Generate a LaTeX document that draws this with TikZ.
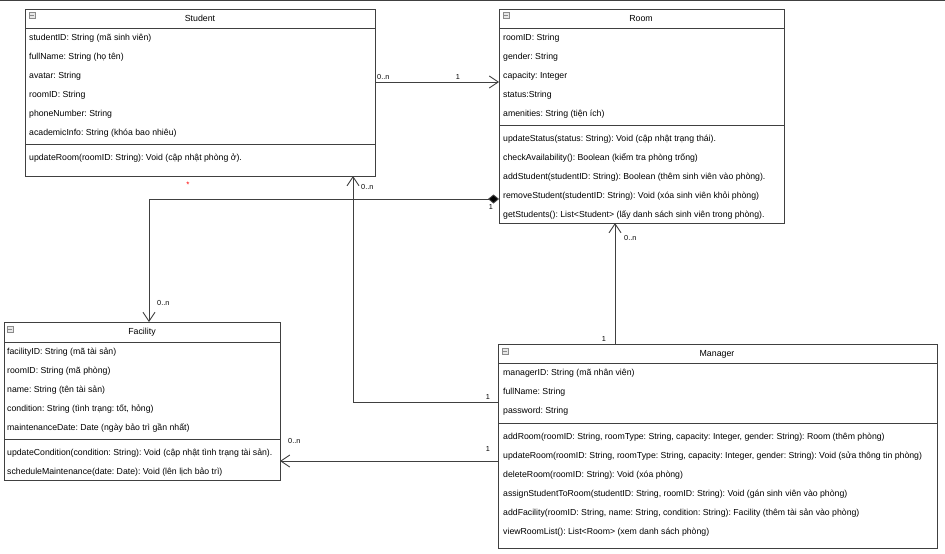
\documentclass[tikz,border=0pt]{standalone}
\usepackage{fontspec}
\setmainfont{Liberation Sans}
\usetikzlibrary{arrows.meta}
\definecolor{edge}{HTML}{404040}
\definecolor{iconc}{HTML}{8A8A8A}
\frenchspacing
\begin{document}
\begin{tikzpicture}[x=1pt,y=-1pt,
  box/.style={draw=edge, line width=0.9pt, fill=white, anchor=north west, inner sep=0pt, outer sep=0pt},
  txt/.style={anchor=west, inner sep=0pt, font=\fontsize{8.72}{10}\selectfont\frenchspacing, text height=6.5pt, text depth=2pt},
  ttl/.style={inner sep=0pt, font=\fontsize{8.8}{10}\selectfont, text height=6.5pt, text depth=2pt},
  lab/.style={inner sep=0pt, font=\fontsize{7.3}{9}\selectfont, text height=5.5pt, text depth=0pt},
  sep/.style={draw=edge, line width=0.9pt},
  conn/.style={draw=edge, line width=0.9pt},
  openend/.style={-{Straight Barb[length=9pt,width=12pt]}},
  icon/.style={draw=iconc, fill=iconc!20, line width=0.5pt, minimum size=6pt, inner sep=0pt,
    path picture={\draw[iconc, line width=0.7pt] ([xshift=1.4pt]path picture bounding box.west) -- ([xshift=-1.4pt]path picture bounding box.east);}},
]
\useasboundingbox (0,0) rectangle (945,554);
\fill[white] (0,0) rectangle (945,554);
\draw[edge, line width=1pt] (0,0.5) -- (945,0.5);

% ---------- boxes ----------
\node[box, minimum width=350pt, minimum height=167pt] (student) at (25,9) {};
\node[box, minimum width=285pt, minimum height=214pt] (room) at (499,9) {};
\node[box, minimum width=276pt, minimum height=158pt] (facility) at (4,322) {};
\node[box, minimum width=439pt, minimum height=204pt] (manager) at (498,344) {};

% ---------- Student ----------
\node[icon] (si) at (32,15) {};
\node[ttl] (st) at (200,19.5) {Student};
\draw[sep] (student.west |- 0,28) -- (student.east |- 0,28);
\draw[sep] (student.west |- 0,144) -- (student.east |- 0,144);
\foreach \t [count=\i] in {{studentID: String (mã sinh viên)},{fullName: String (họ tên)},{avatar: String},{roomID: String},{phoneNumber: String},{academicInfo: String (khóa bao nhiêu)}}
  \node[txt, name=sa\i] at (29,{38+19*(\i-1)}) {\t};
\node[txt] (sm1) at (29,158) {updateRoom(roomID: String): Void (cập nhật phòng ở).};

% ---------- Room ----------
\node[icon] (ri) at (506,15) {};
\node[ttl] (rt) at (641,19.5) {Room};
\draw[sep] (room.west |- 0,28) -- (room.east |- 0,28);
\draw[sep] (room.west |- 0,125) -- (room.east |- 0,125);
\foreach \t [count=\i] in {{roomID: String},{gender: String},{capacity: Integer},{status:String},{amenities: String (tiện ích)}}
  \node[txt, name=ra\i] at (503,{38+19*(\i-1)}) {\t};
\foreach \t [count=\i] in {{updateStatus(status: String): Void (cập nhật trạng thái).},{checkAvailability(): Boolean (kiểm tra phòng trống)},{addStudent(studentID: String): Boolean (thêm sinh viên vào phòng).},{removeStudent(studentID: String): Void (xóa sinh viên khỏi phòng)},{getStudents(): List<Student> (lấy danh sách sinh viên trong phòng).}}
  \node[txt, name=rm\i] at (503,{139+19*(\i-1)}) {\t};

% ---------- Facility ----------
\node[icon] (fi) at (10,329) {};
\node[ttl] (ft) at (142,332.5) {Facility};
\draw[sep] (facility.west |- 0,342) -- (facility.east |- 0,342);
\draw[sep] (facility.west |- 0,439) -- (facility.east |- 0,439);
\foreach \t [count=\i] in {{facilityID: String (mã tài sản)},{roomID: String (mã phòng)},{name: String (tên tài sản)},{condition: String (tình trạng: tốt, hỏng)},{maintenanceDate: Date (ngày bảo trì gần nhất)}}
  \node[txt, name=fa\i] at (7,{352+19*(\i-1)}) {\t};
\foreach \t [count=\i] in {{updateCondition(condition: String): Void (cập nhật tình trạng tài sản).},{scheduleMaintenance(date: Date): Void (lên lịch bảo trì)}}
  \node[txt, name=fm\i] at (7,{453+19*(\i-1)}) {\t};

% ---------- Manager ----------
\node[icon] (mi) at (505,351) {};
\node[ttl] (mt) at (717,354.5) {Manager};
\draw[sep] (manager.west |- 0,363) -- (manager.east |- 0,363);
\draw[sep] (manager.west |- 0,423) -- (manager.east |- 0,423);
\foreach \t [count=\i] in {{managerID: String (mã nhân viên)},{fullName: String},{password: String}}
  \node[txt, name=ma\i] at (503,{373+19*(\i-1)}) {\t};
\foreach \t [count=\i] in {{addRoom(roomID: String, roomType: String, capacity: Integer, gender: String): Room (thêm phòng)},{updateRoom(roomID: String, roomType: String, capacity: Integer, gender: String): Void (sửa thông tin phòng)},{deleteRoom(roomID: String): Void (xóa phòng)},{assignStudentToRoom(studentID: String, roomID: String): Void (gán sinh viên vào phòng)},{addFacility(roomID: String, name: String, condition: String): Facility (thêm tài sản vào phòng)},{viewRoomList(): List<Room> (xem danh sách phòng)}}
  \node[txt, name=mm\i] at (503,{437+19*(\i-1)}) {\t};

% ---------- connectors ----------
% Student -> Room
\draw[conn, openend] (student.east |- 0,82) -- (room.west |- 0,82);
\node[lab, anchor=south west] (l1a) at (377,79.5) {0..n};
\node[lab, anchor=south] (l1b) at (458,79.5) {1};

% Room <>-- Facility (composition)
\draw[conn, {Diamond[length=11pt,width=9pt,fill=black]}-{Straight Barb[length=9pt,width=12pt]}] (room.west |- 0,199) -| (149,0 |- facility.north);
\node[lab, anchor=north] (l2a) at (491,204) {1};
\node[lab, anchor=south west] (l2b) at (157,306) {0..n};
\node[inner sep=0pt, text=red, font=\fontsize{8}{8}\selectfont] (redstar) at (188,185) {*};

% Manager -> Student
\draw[conn, openend] (manager.west |- 0,402) -| (353,0 |- student.south);
\node[lab, anchor=south] (l3a) at (488,400) {1};
\node[lab, anchor=west] (l3b) at (361,187) {0..n};

% Manager -> Facility
\draw[conn, openend] (manager.west |- 0,461) -- (facility.east |- 0,461);
\node[lab, anchor=south] (l4a) at (488,452) {1};
\node[lab, anchor=west] (l4b) at (288,441) {0..n};

% Manager -> Room
\draw[conn, openend] (615,0 |- manager.north) -- (615,0 |- room.south);
\node[lab, anchor=west] (l5a) at (624,238) {0..n};
\node[lab, anchor=south] (l5b) at (604,342) {1};
\end{tikzpicture}
\end{document}
